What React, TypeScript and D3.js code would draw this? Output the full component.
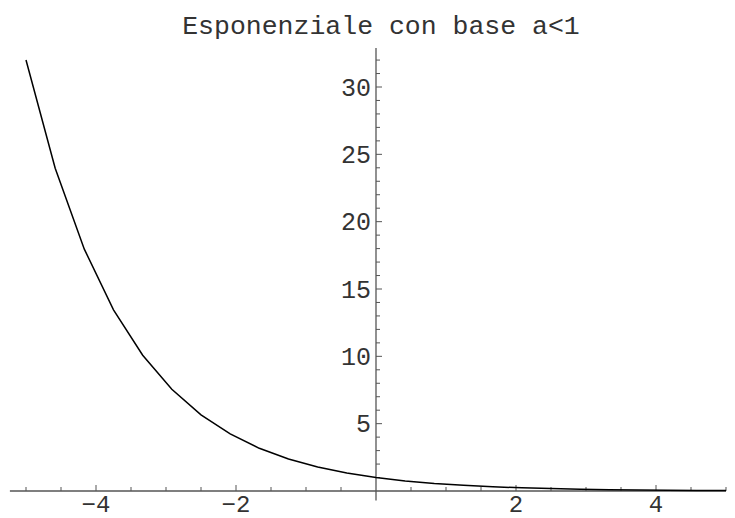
import React from "react";
import * as d3 from "d3";

const xValues = [-5, -4.583, -4.167, -3.75, -3.333, -2.917, -2.5, -2.083, -1.667, -1.25, -0.833, -0.417, 0, 0.417, 0.833, 1.25, 1.667, 2.083, 2.5, 2.917, 3.333, 3.75, 4.167, 4.583, 5];
const yValues = [32, 23.97, 17.96, 13.45, 10.08, 7.55, 5.66, 4.24, 3.17, 2.38, 1.78, 1.33, 1, 0.75, 0.56, 0.42, 0.31, 0.24, 0.18, 0.13, 0.1, 0.074, 0.056, 0.042, 0.031];
const xMajorTicks = [-4, -2, 2, 4];
const xMinorTicks = [-5, -4.5, -3.5, -3, -2.5, -1.5, -1, -0.5, 0.5, 1, 1.5, 2.5, 3, 3.5, 4.5, 5];
const yMajorTicks = [5, 10, 15, 20, 25, 30];
const yMinorTicks = d3.range(1, 33).filter((v) => v % 5 !== 0);
const title = "Esponenziale con base a<1";

export default function App() {
  const W = 735, H = 518;
  const x = d3.scaleLinear().domain([-5, 5]).range([26, 726]);
  const y = d3.scaleLinear().domain([0, 30]).range([491, 87]);
  const font = "'Courier New', 'Liberation Mono', monospace";
  const line = d3.line<number>().x((_, i) => x(xValues[i])).y((d) => y(d));
  return (
    <svg width={W} height={H} style={{ position: "absolute", left: 0, top: 0 }}>
      <rect width={W} height={H} fill="#fff" />
      <text x={381} y={34} textAnchor="middle" fontFamily={font} fontSize={26.5} fill="#333">{title}</text>
      <line x1={x(-5.23)} x2={x(5)} y1={y(0)} y2={y(0)} stroke="#555" strokeWidth={1.3} />
      <line x1={x(0)} x2={x(0)} y1={y(32.9)} y2={y(-0.7)} stroke="#555" strokeWidth={1.3} />
      {xMajorTicks.map((t) => (
        <g key={"xM" + t}>
          <line x1={x(t)} x2={x(t)} y1={y(0)} y2={y(0) - 6} stroke="#555" />
          <text x={x(t)} y={512} textAnchor="middle" fontFamily={font} fontSize={24} fill="#333">{t < 0 ? "\u2212" + Math.abs(t) : t}</text>
        </g>
      ))}
      {xMinorTicks.map((t) => (
        <line key={"xm" + t} x1={x(t)} x2={x(t)} y1={y(0)} y2={y(0) - 4} stroke="#555" />
      ))}
      {yMajorTicks.map((t) => (
        <g key={"yM" + t}>
          <line x1={x(0)} x2={x(0) + 6} y1={y(t)} y2={y(t)} stroke="#555" />
          <text x={371} y={y(t)} dy="0.35em" textAnchor="end" fontFamily={font} fontSize={25} fill="#333">{t}</text>
        </g>
      ))}
      {yMinorTicks.map((t) => (
        <line key={"ym" + t} x1={x(0)} x2={x(0) + 4} y1={y(t)} y2={y(t)} stroke="#555" />
      ))}
      <path d={line(yValues) || ""} fill="none" stroke="#000" strokeWidth={1.5} />
    </svg>
  );
}
